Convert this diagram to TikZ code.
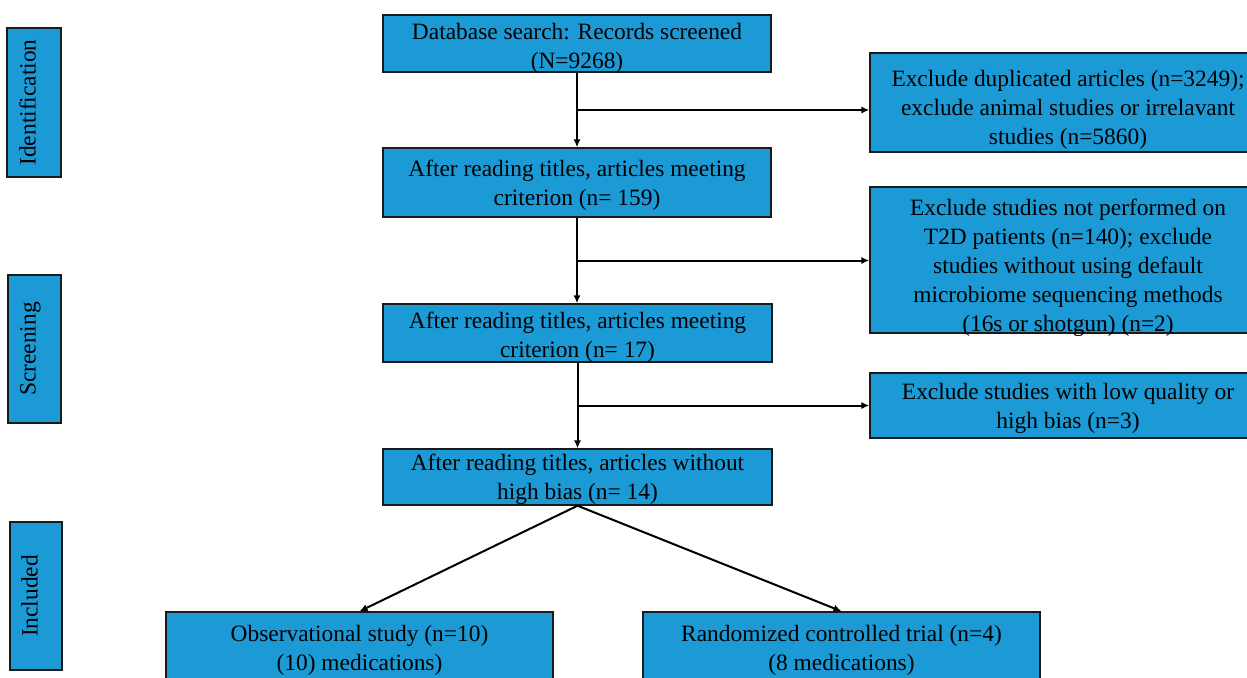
\documentclass[tikz,border=0pt]{standalone}
\usepackage{fontspec}
\setmainfont{Liberation Serif}
\usetikzlibrary{arrows.meta,calc,positioning}
\definecolor{boxblue}{HTML}{1B9AD6}
\definecolor{edge}{HTML}{1A1A1A}
\newcommand\lift[1][11pt]{\rule{0pt}{#1}}
\tikzset{>={Latex[length=4pt,width=3.6pt]},line width=1pt,
  every node/.style={font=\fontsize{11.7}{14.5}\selectfont},
  flow/.style={->,draw=black,line width=1pt}}
\begin{document}
\begin{tikzpicture}[x=.5pt,y=-.5pt,
  block/.style={draw=edge,line width=.7pt,fill=boxblue,align=center,inner xsep=0pt,inner ysep=-4pt},
  stage/.style={draw=edge,line width=.7pt,fill=boxblue,inner sep=0pt,rotate=90,execute at begin node={\rule[-6.5pt]{0pt}{6.5pt}}}]
\clip (0,0) rectangle (1247,677);\useasboundingbox (0,0) rectangle (1247,677);
% stage labels
\node[stage,minimum width=74.5pt,minimum height=27pt] (ident) at (34,102.5) {Identification};
\node[stage,minimum width=74pt,minimum height=26.5pt] (screen) at (34.5,349) {Screening};
\node[stage,minimum width=74pt,minimum height=26pt] (incl) at (36,596) {Included};
% main column
\node[block,minimum width=194pt,minimum height=28.5pt] (records) at (577,43.5) {\lift[12.6pt]Database search: Records screened\\(N=9268)};
\node[block,minimum width=194pt,minimum height=34.5pt] (titles) at (577,182.5) {\lift After reading titles, articles meeting\\criterion (n= 159)};
\node[block,minimum width=194.5pt,minimum height=29pt] (criterion) at (577.5,333) {\lift[12.1pt]After reading titles, articles meeting\\criterion (n= 17)};
\node[block,minimum width=194.5pt,minimum height=28pt] (nobias) at (577.5,477) {\lift After reading titles, articles without\\high bias (n= 14)};
% exclusions
\node[block,minimum width=198pt,minimum height=49.5pt] (dup) at (1068,102.5) {\lift[15.6pt]Exclude duplicated articles (n=3249);\\exclude animal studies or irrelavant\\studies (n=5860)};
\node[block,minimum width=198pt,minimum height=73pt] (tdd) at (1068,260) {\lift[16.1pt]Exclude studies not performed on\\T2D patients (n=140); exclude\\studies without using default\\microbiome sequencing methods\\(16s or shotgun) (n=2)};
\node[block,minimum width=198pt,minimum height=32.5pt] (quality) at (1068,405.5) {\lift Exclude studies with low quality or\\high bias (n=3)};
% included studies
\node[block,minimum width=193.5pt,minimum height=36pt] (obs) at (359.5,648) {\lift[10.1pt]Observational study (n=10)\\(10) medications)};
\node[block,minimum width=198.5pt,minimum height=36pt] (rct) at (841.5,648) {\lift[10.1pt]Randomized controlled trial (n=4)\\(8 medications)};
% connectors
\draw[flow] (records)--(titles);\draw[flow] (titles.south)--(titles.south|-criterion.north);\draw[flow] (criterion)--(nobias);
\coordinate (b1) at ($(records.south)!.5!(titles.north)$);
\coordinate (b2) at ($(titles.south)!.5!(criterion.north)$);
\coordinate (b3) at ($(criterion.south)!.5!(nobias.north)$);
\draw[flow] (b1)--(b1-|dup.west);\draw[flow] (b2)--(b2-|tdd.west);\draw[flow] (b3)--(b3-|quality.west);
\draw[flow] (nobias.south)--(obs.north);\draw[flow] (nobias.south)--(rct.north);
\end{tikzpicture}
\end{document}
